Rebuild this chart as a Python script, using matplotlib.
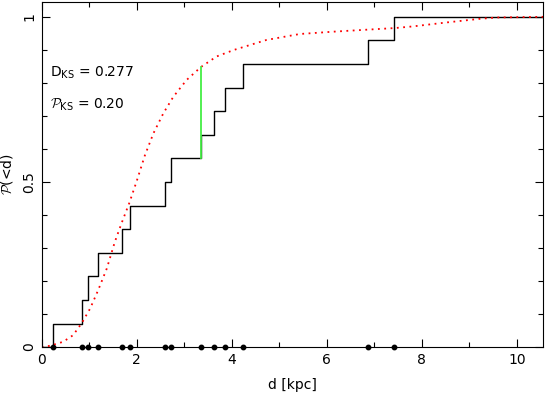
import numpy as np
import matplotlib
matplotlib.use("Agg")
import matplotlib.pyplot as plt
from matplotlib.ticker import MultipleLocator

# observed distances [kpc]
dist = [0.24, 0.84, 0.98, 1.19, 1.68, 1.85, 2.59, 2.73,
        3.35, 3.62, 3.85, 4.23, 6.87, 7.41]

# model cumulative distribution
model_d = [0.0, 0.17, 0.45, 0.66, 0.84, 1.02, 1.19, 1.37, 1.54, 1.68,
           1.84, 2.0, 2.17, 2.35, 2.56, 2.77, 3.05, 3.35, 3.68, 4.05,
           4.73, 5.43, 6.13, 6.83, 7.43, 7.81, 8.52, 9.22, 9.57, 10.55]
model_p = [0.0, 0.004, 0.016, 0.036, 0.072, 0.117, 0.173, 0.238, 0.319, 0.375,
           0.435, 0.503, 0.58, 0.647, 0.708, 0.758, 0.809, 0.848, 0.88, 0.90,
           0.930, 0.948, 0.955, 0.961, 0.966, 0.971, 0.983, 0.994, 0.998, 1.0]

D_ks = 0.277
P_ks = "0.20"
i_max = 8  # index of the point where the max difference occurs

plt.rcParams['font.family'] = 'DejaVu Sans'
plt.rcParams['font.size'] = 10
plt.rcParams['mathtext.fontset'] = 'custom'
plt.rcParams['mathtext.rm'] = 'DejaVu Sans'
plt.rcParams['mathtext.cal'] = 'cmsy10'

fig = plt.figure(figsize=(5.45, 3.94), dpi=100)
ax = fig.add_axes([0.0765, 0.119, 0.92, 0.876])

xmax = 10.55
n = len(dist)
xs = np.concatenate([[0], dist, [xmax]])
ys = np.concatenate([[0], np.arange(1, n + 1) / n, [1]])
ax.step(xs, ys, where='post', color='black', lw=1.0)

ax.plot(model_d, model_p, color='red', lw=1.3, linestyle=(0, (1, 2.5)))

y_lo = i_max / n
ax.plot([dist[i_max], dist[i_max]], [y_lo, y_lo + D_ks], color='#44ee44', lw=1.3)

ax.plot(dist, np.zeros(n), 'o', color='black', ms=3.2, clip_on=False, zorder=5)

ax.text(0.17, 0.83, r'D$_{\mathrm{KS}}$ = %.3f' % D_ks, va='center', fontsize=10)
ax.text(0.17, 0.733, r'$\mathcal{P}_{\mathrm{KS}}$ = ' + P_ks, va='center', fontsize=10)

ax.set_xlim(0, xmax)
ax.set_ylim(0, 1.045)
ax.xaxis.set_major_locator(MultipleLocator(2))
ax.xaxis.set_minor_locator(MultipleLocator(1))
ax.yaxis.set_major_locator(MultipleLocator(0.5))
ax.yaxis.set_minor_locator(MultipleLocator(0.1))
ax.set_yticks([0, 0.5, 1])
ax.set_yticklabels(['0', '0.5', '1'], rotation=90, va='center')
ax.tick_params(which='both', direction='in', top=True, right=True, width=0.8)
ax.tick_params(which='major', length=6, pad=4)
ax.tick_params(which='minor', length=3.5)

ax.set_xlabel('d [kpc]', labelpad=8)
ax.set_ylabel(r'$\mathcal{P}$(<d)', labelpad=5)

for s in ax.spines.values():
    s.set_linewidth(0.8)

plt.savefig('out.png', dpi=100)
